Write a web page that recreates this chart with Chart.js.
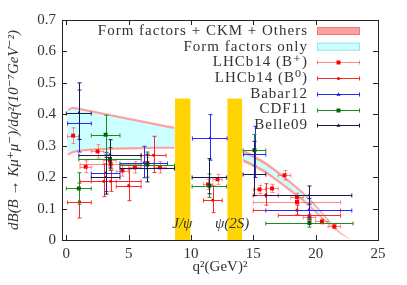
<!DOCTYPE html>
<html><head><meta charset="utf-8">
<script src="https://cdn.jsdelivr.net/npm/chart.js@4/dist/chart.umd.min.js"></script>
<style>html,body{margin:0;padding:0;background:#fff}canvas{display:block}</style>
</head><body>
<canvas id="c" width="407" height="285"></canvas>
<script>
// ---- theory bands ----
const q2LowBand = [0.1,0.5,1,2,3,4,5,6,7,8,8.68];
const ffckmUpperLow = [0.418,0.424,0.421,0.413,0.405,0.397,0.389,0.381,0.373,0.365,0.360];
const ffckmLowerLow = [0.268,0.276,0.281,0.284,0.286,0.287,0.288,0.289,0.290,0.290,0.290];
const ffUpperLow = [0.411,0.417,0.414,0.406,0.398,0.390,0.382,0.374,0.366,0.358,0.353];
const ffLowerLow = [0.275,0.283,0.288,0.291,0.293,0.294,0.295,0.296,0.297,0.297,0.297];
const q2HighBand = [14.18,15,16,17,18,19,20,21,22,22.9];
const ffckmUpperHigh = [0.288,0.271,0.248,0.219,0.187,0.153,0.113,0.066,0.024,0];
const ffckmLowerHigh = [0.248,0.233,0.211,0.183,0.153,0.122,0.086,0.050,0.018,0];
const ffUpperHigh = [0.278,0.261,0.238,0.210,0.178,0.145,0.106,0.061,0.021,0];
const ffLowerHigh = [0.258,0.243,0.221,0.192,0.162,0.130,0.093,0.055,0.020,0];
// ---- charmonium veto regions ----
const vetoLo = [8.72, 12.92];
const vetoHi = [9.95, 14.10];
const vetoTop = 0.45;
const vetoLabels = ["J/ψ", "ψ(2S)"];
// ---- data ----
const lhcbPlusBins = [[0.1,0.98],[1.1,2],[2,3],[3,4],[4,5],[5,6],[6,7],[7,8],[11,11.75],[11.75,12.5],[15,16],[16,17],[17,18],[18,19],[19,20],[20,21],[21,22],[1.1,6],[15,22]];
const lhcbPlusVal = [0.332,0.233,0.282,0.254,0.221,0.231,0.245,0.231,0.177,0.193,0.161,0.164,0.206,0.137,0.074,0.059,0.043,0.242,0.121];
const lhcbPlusErr = [0.025,0.019,0.021,0.020,0.018,0.018,0.018,0.018,0.016,0.016,0.013,0.013,0.015,0.012,0.009,0.008,0.007,0.014,0.007];
const lhcbZeroBins = [[0.1,2],[2,4],[4,6],[6,8],[11,12.5],[15,17],[17,22],[1.1,6],[15,22]];
const lhcbZeroVal = [0.122,0.187,0.173,0.270,0.127,0.143,0.078,0.187,0.095];
const lhcbZeroUp = [0.059,0.055,0.053,0.060,0.045,0.036,0.017,0.035,0.016];
const lhcbZeroDn = [0.052,0.049,0.048,0.055,0.040,0.032,0.015,0.032,0.015];
const babarBins = [[0.1,2],[2,4.3],[4.3,8.12],[10.11,12.89],[14.21,16],[16,22.9]];
const babarVal = [0.372,0.214,0.246,0.324,0.274,0.097];
const babarUp = [0.105,0.065,0.052,0.075,0.088,0.035];
const babarDn = [0.092,0.060,0.048,0.070,0.075,0.032];
const cdfBins = [[0,2],[2,4.3],[4.3,8.68],[10.09,12.86],[14.18,16],[16,23],[1,6]];
const cdfVal = [0.164,0.335,0.240,0.173,0.286,0.054,0.258];
const cdfErr = [0.050,0.062,0.040,0.037,0.050,0.013,0.036];
const belleBins = [[0,2],[2,4.3],[4.3,8.68],[10.09,12.86],[14.18,16],[16,22.9],[1,6]];
const belleVal = [0.405,0.200,0.228,0.199,0.209,0.142,0.272];
const belleUp = [0.095,0.063,0.045,0.060,0.105,0.030,0.047];
const belleDn = [0.085,0.054,0.043,0.052,0.068,0.028,0.043];
const xTicks = [0,5,10,15,20,25];
const yTicks = [0,0.1,0.2,0.3,0.4,0.5,0.6,0.7];

const SERIF = "'Liberation Serif', 'DejaVu Serif', serif";
const pts = (xs, ys) => xs.map((x,i)=>({x, y: ys[i]}));
function errSet(label, bins, val, up, dn, color, marker, mcolor, radius){
  return {
    type:'scatter', label, err:true, lineColor:color,
    data: bins.map((b,i)=>({x:(b[0]+b[1])/2, y:val[i], xl:b[0], xh:b[1], yu:val[i]+up[i], yd:val[i]-dn[i]})),
    pointStyle: marker, pointRadius: radius, pointBackgroundColor: mcolor, pointBorderColor: mcolor, pointBorderWidth: 0,
    showLine:false
  };
}
function band(xs, ys, fill, color){
  return {type:'line', data: pts(xs, ys), pointRadius:0, borderWidth:0, borderColor:'rgba(0,0,0,0)', fill: fill, backgroundColor: color, tension:0};
}
const PINK = 'rgb(255,160,160)';
const CYAN = 'rgb(204,255,255)';
const COLORS = {
  lp: 'rgba(255,60,60,0.6)', lz: 'rgb(255,40,40)', babar:'rgb(40,40,255)', cdf:'rgb(30,140,30)', belle:'rgb(25,25,80)'
};
const datasets = [
  band(q2LowBand, ffckmUpperLow, false, PINK),
  band(q2LowBand, ffckmLowerLow, 0, PINK),
  band(q2HighBand, ffckmUpperHigh, false, PINK),
  band(q2HighBand, ffckmLowerHigh, 2, PINK),
  band(q2LowBand, ffUpperLow, false, CYAN),
  band(q2LowBand, ffLowerLow, 4, CYAN),
  band(q2HighBand, ffUpperHigh, false, CYAN),
  band(q2HighBand, ffLowerHigh, 6, CYAN),
  errSet('LHCb14 (B⁺)', lhcbPlusBins, lhcbPlusVal, lhcbPlusErr, lhcbPlusErr, COLORS.lp, 'rect', 'rgb(255,0,0)', 2.8),
  errSet('LHCb14 (B⁰)', lhcbZeroBins, lhcbZeroVal, lhcbZeroUp, lhcbZeroDn, COLORS.lz, 'circle', 'rgb(255,0,0)', 1.6),
  errSet('Babar12', babarBins, babarVal, babarUp, babarDn, COLORS.babar, 'triangle', 'rgb(20,20,230)', 1.6),
  errSet('CDF11', cdfBins, cdfVal, cdfErr, cdfErr, COLORS.cdf, 'rect', 'rgb(0,100,0)', 2.8),
  errSet('Belle09', belleBins, belleVal, belleUp, belleDn, COLORS.belle, 'triangle', 'rgb(20,20,70)', 1.6)
];
// draw in array order: first dataset at the bottom
datasets.forEach((d,i)=>{ d.order = datasets.length - i; });

const CAP = 2;
const plug = {
  id:'custom',
  beforeDatasetsDraw(chart){
    const {ctx, scales:{x,y}} = chart;
    ctx.save(); ctx.fillStyle = 'rgb(255,212,0)';
    vetoLo.forEach((lo,i)=>{
      const x0 = x.getPixelForValue(lo), x1 = x.getPixelForValue(vetoHi[i]);
      const y0 = y.getPixelForValue(vetoTop), y1 = y.getPixelForValue(0);
      ctx.fillRect(x0, y0, x1-x0, y1-y0);
    });
    ctx.restore();
  },
  beforeDatasetDraw(chart, args){
    const ds = chart.data.datasets[args.index];
    if(!ds.err) return;
    const {ctx, scales:{x,y}} = chart;
    ctx.save(); ctx.strokeStyle = ds.lineColor; ctx.lineWidth = 1;
    ds.data.forEach(p=>{
      const px = Math.round(x.getPixelForValue(p.x))+0.5, py = Math.round(y.getPixelForValue(p.y))+0.5;
      const xl = x.getPixelForValue(p.xl), xh = x.getPixelForValue(p.xh);
      const yu = y.getPixelForValue(p.yu), yd = y.getPixelForValue(p.yd);
      ctx.beginPath();
      ctx.moveTo(xl, py); ctx.lineTo(xh, py);
      ctx.moveTo(xl, py-CAP); ctx.lineTo(xl, py+CAP);
      ctx.moveTo(xh, py-CAP); ctx.lineTo(xh, py+CAP);
      ctx.moveTo(px, yu); ctx.lineTo(px, yd);
      ctx.moveTo(px-CAP, yu); ctx.lineTo(px+CAP, yu);
      ctx.moveTo(px-CAP, yd); ctx.lineTo(px+CAP, yd);
      ctx.stroke();
    });
    ctx.restore();
  },
  afterDraw(chart){
    const {ctx, chartArea:a, scales:{x,y}} = chart;
    ctx.save();
    // annotations
    ctx.fillStyle = '#333'; ctx.font = 'italic 15px ' + SERIF; ctx.textAlign='center'; ctx.textBaseline='middle';
    ctx.fillText(vetoLabels[0], x.getPixelForValue(9.3), y.getPixelForValue(0.05));
    ctx.fillText(vetoLabels[1], x.getPixelForValue(13.3), y.getPixelForValue(0.05));
    // frame
    ctx.strokeStyle = '#222'; ctx.lineWidth = 1;
    ctx.strokeRect(Math.round(a.left)+0.5, Math.round(a.top)+0.5, Math.round(a.right-a.left), Math.round(a.bottom-a.top));
    const T = 5;
    ctx.beginPath();
    xTicks.forEach(v=>{ const px = Math.round(x.getPixelForValue(v))+0.5;
      ctx.moveTo(px, a.bottom); ctx.lineTo(px, a.bottom-T);
      ctx.moveTo(px, a.top); ctx.lineTo(px, a.top+T); });
    yTicks.forEach(v=>{ const py = Math.round(y.getPixelForValue(v))+0.5;
      ctx.moveTo(a.left, py); ctx.lineTo(a.left+T, py);
      ctx.moveTo(a.right, py); ctx.lineTo(a.right-T, py); });
    ctx.stroke();
    // legend
    const textRight = a.right - 70, symL = a.right - 61, symR = a.right - 18, symC = (symL+symR)/2;
    ctx.font = '15px ' + SERIF; ctx.textAlign = 'right'; ctx.textBaseline='middle'; ctx.fillStyle='#333';
    if ('letterSpacing' in ctx) ctx.letterSpacing = '1px';
    const rows = [
      {t:'Form factors + CKM + Others', box:PINK, edge:'rgb(240,120,120)'},
      {t:'Form factors only', box:CYAN, edge:'rgb(150,230,230)'},
      {ds:8},{ds:9},{ds:10},{ds:11},{ds:12}
    ];
    rows.forEach((r,i)=>{
      const cy = a.top + 11 + i*15.7;
      const ds = r.ds!==undefined ? chart.data.datasets[r.ds] : null;
      ctx.fillStyle='#333';
      ctx.fillText(ds ? ds.label : r.t, textRight, cy);
      if(!ds){
        ctx.fillStyle = r.box; ctx.fillRect(symL, cy-4, symR-symL, 8);
        ctx.strokeStyle = r.edge; ctx.strokeRect(symL+0.5, cy-3.5, symR-symL-1, 7);
      } else {
        const yy = Math.round(cy)+0.5;
        ctx.strokeStyle = ds.lineColor; ctx.beginPath();
        ctx.moveTo(symL, yy); ctx.lineTo(symR, yy);
        ctx.moveTo(symL+0.5, yy-CAP); ctx.lineTo(symL+0.5, yy+CAP);
        ctx.moveTo(symR-0.5, yy-CAP); ctx.lineTo(symR-0.5, yy+CAP);
        ctx.stroke();
        ctx.fillStyle = ds.pointBackgroundColor;
        ctx.beginPath();
        if(ds.pointStyle==='rect'){ const s = ds.pointRadius*Math.SQRT1_2; ctx.rect(symC-s, yy-s, 2*s, 2*s); }
        else if(ds.pointStyle==='circle'){ ctx.arc(symC, yy, ds.pointRadius, 0, Math.PI*2); }
        else { const r = ds.pointRadius*1.3; ctx.moveTo(symC, yy-r); ctx.lineTo(symC+r, yy+r*0.6); ctx.lineTo(symC-r, yy+r*0.6); ctx.closePath(); }
        ctx.fill();
      }
    });
    ctx.restore();
  }
};

new Chart(document.getElementById('c'), {
  type:'scatter',
  data:{datasets},
  options:{
    responsive:false, animation:false, devicePixelRatio:1,
    layout:{padding:{top:20, right:29, left:0, bottom:0}},
    plugins:{legend:{display:false}, tooltip:{enabled:false}},
    scales:{
      x:{type:'linear', min:-0.35, max:25,
        afterFit(s){ s.height = 45; },
        afterBuildTicks(s){ s.ticks = xTicks.map(v=>({value:v})); },
        grid:{display:false, drawTicks:false}, border:{display:false},
        ticks:{padding:5, color:'#333', font:{family:SERIF, size:15}, callback:v=>String(v)},
        title:{display:true, text:'q²(GeV)²', color:'#333', font:{family:SERIF, size:15}, padding:{top:0, bottom:9}}
      },
      y:{type:'linear', min:0, max:0.7,
        afterFit(s){ s.width = 62; },
        afterBuildTicks(s){ s.ticks = yTicks.map(v=>({value:v})); },
        grid:{display:false, drawTicks:false}, border:{display:false},
        ticks:{padding:6, color:'#333', font:{family:SERIF, size:15}, callback:v=> v===0 ? '0' : v.toFixed(1)},
        title:{display:true, text:'dB(B → Kμ⁺μ⁻)/dq²(10⁻⁷GeV⁻²)', color:'#333', font:{family:SERIF, size:15, style:'italic'}, padding:{top:5, bottom:0}}
      }
    }
  },
  plugins:[plug]
});
</script>
</body></html>
